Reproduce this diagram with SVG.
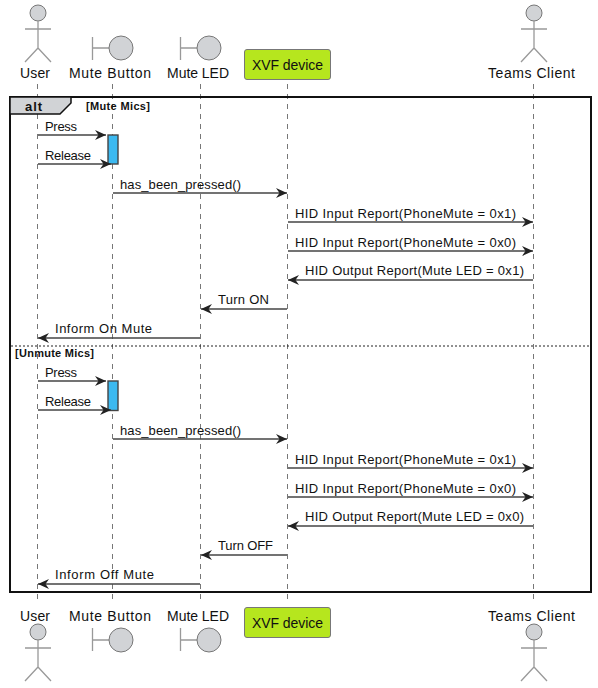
<svg xmlns="http://www.w3.org/2000/svg" width="598" height="688" viewBox="0 0 598 688">
<defs>
<style>
text{font-family:"Liberation Sans",Arial,sans-serif;fill:#111}
.n{font-size:14px}
.m{font-size:13px}
.b{font-size:11px;font-weight:bold}
.life{stroke:#777;stroke-width:1;stroke-dasharray:5 5;fill:none}
.shape{fill:#d1d3d6;stroke:#777;stroke-width:1}
.lim{stroke:#999;stroke-width:1.3;fill:none}
.msg{stroke:#444;stroke-width:1.3;fill:none}
.act{fill:#3cb9f0;stroke:#444;stroke-width:1.4}
.dev{fill:#b6e61e;stroke:#777;stroke-width:1}
</style>
<marker id="r" markerUnits="userSpaceOnUse" markerWidth="13" markerHeight="11" refX="12" refY="5.500" orient="auto"><path d="M1 0.500L12 5.500L1 10.500L4.500 5.500Z" fill="#222"/></marker>
<marker id="l" markerUnits="userSpaceOnUse" markerWidth="13" markerHeight="11" refX="1" refY="5.500" orient="auto"><path d="M12 0.500L1 5.500L12 10.500L8.500 5.500Z" fill="#222"/></marker>
</defs>
<g id="lifelines">
<path class="life" d="M37.500 84V604M112.500 84V604M200.500 84V604M287.500 84V604M533.500 84V604"/>
</g>
<g id="frame">
<rect x="10" y="97" width="581" height="495" fill="none" stroke="#111" stroke-width="2"/>
<path d="M10 97H71V103L60 114H10Z" fill="#d1d3d6" stroke="#111" stroke-width="1.500"/>
<text x="25" y="111" style="font-size:13px;font-weight:bold" textLength="17" lengthAdjust="spacing">alt</text>
<text class="b" x="86" y="110" textLength="64" lengthAdjust="spacing">[Mute Mics]</text>
<path d="M11 346H590" stroke="#222" stroke-width="1" stroke-dasharray="2 2"/>
<text class="b" x="15" y="357" textLength="79" lengthAdjust="spacing">[Unmute Mics]</text>
</g>
<g id="activations">
<rect class="act" x="108" y="135" width="10" height="29"/>
<rect class="act" x="108" y="381" width="10" height="29.500"/>
</g>
<g id="connectors">
<path class="msg" marker-end="url(#r)" d="M38 135H106"/>
<path class="msg" marker-end="url(#r)" d="M38 164H111"/>
<path class="msg" marker-end="url(#r)" d="M113 193H287"/>
<path class="msg" marker-end="url(#r)" d="M288 222H533"/>
<path class="msg" marker-end="url(#r)" d="M288 251H533"/>
<path class="msg" marker-start="url(#l)" d="M288 280H533"/>
<path class="msg" marker-start="url(#l)" d="M201 309H287"/>
<path class="msg" marker-start="url(#l)" d="M38 338H200"/>
<path class="msg" marker-end="url(#r)" d="M38 381H106"/>
<path class="msg" marker-end="url(#r)" d="M38 410H111"/>
<path class="msg" marker-end="url(#r)" d="M113 439H287"/>
<path class="msg" marker-end="url(#r)" d="M288 468H533"/>
<path class="msg" marker-end="url(#r)" d="M288 497H533"/>
<path class="msg" marker-start="url(#l)" d="M288 526H533"/>
<path class="msg" marker-start="url(#l)" d="M201 555H287"/>
<path class="msg" marker-start="url(#l)" d="M38 584H200"/>
</g>
<g id="labels">
<text class="m" x="45" y="131" textLength="32" lengthAdjust="spacing">Press</text>
<text class="m" x="45" y="160" textLength="46" lengthAdjust="spacing">Release</text>
<text class="m" x="120" y="189" textLength="121" lengthAdjust="spacing">has_been_pressed()</text>
<text class="m" x="295" y="218" textLength="221" lengthAdjust="spacing">HID Input Report(PhoneMute = 0x1)</text>
<text class="m" x="295" y="247" textLength="221" lengthAdjust="spacing">HID Input Report(PhoneMute = 0x0)</text>
<text class="m" x="305" y="275" textLength="219" lengthAdjust="spacing">HID Output Report(Mute LED = 0x1)</text>
<text class="m" x="218" y="304" textLength="51" lengthAdjust="spacing">Turn ON</text>
<text class="m" x="55" y="333" textLength="97" lengthAdjust="spacing">Inform On Mute</text>
<text class="m" x="45" y="377" textLength="32" lengthAdjust="spacing">Press</text>
<text class="m" x="45" y="406" textLength="46" lengthAdjust="spacing">Release</text>
<text class="m" x="120" y="435" textLength="121" lengthAdjust="spacing">has_been_pressed()</text>
<text class="m" x="295" y="464" textLength="221" lengthAdjust="spacing">HID Input Report(PhoneMute = 0x1)</text>
<text class="m" x="295" y="493" textLength="221" lengthAdjust="spacing">HID Input Report(PhoneMute = 0x0)</text>
<text class="m" x="305" y="521" textLength="219" lengthAdjust="spacing">HID Output Report(Mute LED = 0x0)</text>
<text class="m" x="218" y="550" textLength="55" lengthAdjust="spacing">Turn OFF</text>
<text class="m" x="55" y="579" textLength="99" lengthAdjust="spacing">Inform Off Mute</text>
</g>
<g id="user-top">
<circle class="shape" cx="38" cy="13" r="8"/>
<path class="lim" d="M38 21V48M25 29H51M38 48L25 62M38 48L51 62"/>
<text class="n" x="20" y="78" textLength="30" lengthAdjust="spacing">User</text>
</g>
<g id="mute-button-top">
<path class="lim" d="M92.500 37V60M92.500 48H109"/>
<circle class="shape" cx="121" cy="48" r="12"/>
<text class="n" x="69" y="78" textLength="82" lengthAdjust="spacing">Mute Button</text>
</g>
<g id="mute-led-top">
<path class="lim" d="M180.500 37V60M180.500 48H197"/>
<circle class="shape" cx="209" cy="48" r="12"/>
<text class="n" x="167" y="78" textLength="62" lengthAdjust="spacing">Mute LED</text>
</g>
<g id="xvf-top">
<rect class="dev" x="244.500" y="49.500" width="86" height="30" rx="2.500"/>
<text class="n" x="252" y="70" textLength="71" lengthAdjust="spacing">XVF device</text>
</g>
<g id="teams-top">
<circle class="shape" cx="534" cy="13" r="8"/>
<path class="lim" d="M534 21V48M521 29H547M534 48L521 62M534 48L547 62"/>
<text class="n" x="488" y="78" textLength="87" lengthAdjust="spacing">Teams Client</text>
</g>
<g id="user-bottom">
<text class="n" x="20" y="621" textLength="30" lengthAdjust="spacing">User</text>
<circle class="shape" cx="38" cy="632" r="8"/>
<path class="lim" d="M38 640V667M25 648H51M38 667L25 681M38 667L51 681"/>
</g>
<g id="mute-button-bottom">
<text class="n" x="69" y="621" textLength="82" lengthAdjust="spacing">Mute Button</text>
<path class="lim" d="M92.500 628V651M92.500 640H109"/>
<circle class="shape" cx="121" cy="640" r="12"/>
</g>
<g id="mute-led-bottom">
<text class="n" x="167" y="621" textLength="62" lengthAdjust="spacing">Mute LED</text>
<path class="lim" d="M180.500 628V651M180.500 640H197"/>
<circle class="shape" cx="209" cy="640" r="12"/>
</g>
<g id="xvf-bottom">
<rect class="dev" x="244.500" y="607.500" width="86" height="30" rx="2.500"/>
<text class="n" x="252" y="628" textLength="71" lengthAdjust="spacing">XVF device</text>
</g>
<g id="teams-bottom">
<text class="n" x="488" y="621" textLength="87" lengthAdjust="spacing">Teams Client</text>
<circle class="shape" cx="534" cy="632" r="8"/>
<path class="lim" d="M534 640V667M521 648H547M534 667L521 681M534 667L547 681"/>
</g>
</svg>
